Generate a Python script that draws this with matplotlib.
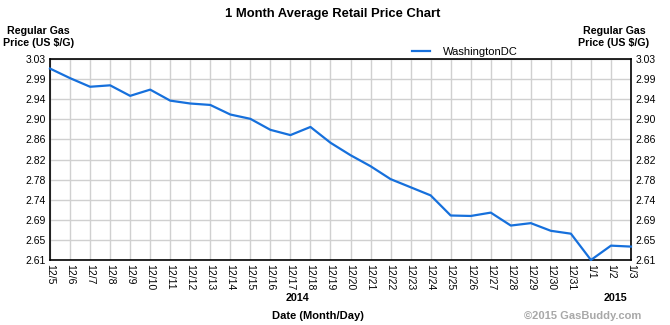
import numpy as np
import matplotlib.pyplot as plt

plt.rcParams['font.family'] = ['Liberation Sans', 'DejaVu Sans']

# ----------------------------
# Data: daily average regular gas price, Washington DC
# ----------------------------

dates = ['12/5', '12/6', '12/7', '12/8', '12/9', '12/10', '12/11', '12/12',
         '12/13', '12/14', '12/15', '12/16', '12/17', '12/18', '12/19',
         '12/20', '12/21', '12/22', '12/23', '12/24', '12/25', '12/26',
         '12/27', '12/28', '12/29', '12/30', '12/31', '1/1', '1/2', '1/3']

prices = [3.010, 2.990, 2.972, 2.975, 2.953, 2.966, 2.943, 2.937,
          2.934, 2.914, 2.905, 2.882, 2.871, 2.888, 2.855,
          2.829, 2.806, 2.779, 2.762, 2.745, 2.703, 2.702,
          2.709, 2.682, 2.687, 2.671, 2.665, 2.610, 2.640, 2.638]

y_min, y_max = 2.61, 3.03
y_labels = ['2.61', '2.65', '2.69', '2.74', '2.78', '2.82',
            '2.86', '2.90', '2.94', '2.99', '3.03']

line_color = '#1670dc'

# ----------------------------
# Plot
# ----------------------------

fig = plt.figure(figsize=(6.7, 3.25), dpi=100)
ax = fig.add_axes([50 / 670, 65 / 325, 581 / 670, 201 / 325])

x = np.arange(len(dates))
ax.plot(x, prices, color=line_color, lw=1.6, label='WashingtonDC',
        solid_joinstyle='round', clip_on=False, zorder=3)

ax.set_xlim(0, len(dates) - 1)
ax.set_ylim(y_min, y_max)

ax.set_xticks(x)
ax.set_xticklabels(dates, rotation=-90, fontsize=7.5, va='top', ha='center')
yt = np.linspace(y_min, y_max, len(y_labels))
ax.set_yticks(yt)
ax.set_yticklabels(y_labels, fontsize=7.5)
ax.tick_params(axis='both', length=0, pad=3)
ax.tick_params(axis='y', labelright=True, right=False)

ax.grid(True, color='#d0d0d0', lw=1.0)
ax.set_axisbelow(True)
for s in ax.spines.values():
    s.set_color('black')
    s.set_linewidth(1.2)

# Titles and labels
fig.text(333 / 670, 1 - 14 / 325, '1 Month Average Retail Price Chart',
         ha='center', va='center', fontsize=9.4, fontweight='bold')
fig.text(3 / 670, 1 - 37 / 325, 'Regular Gas\nPrice (US $/G)',
         ha='left', va='center', fontsize=7.7, fontweight='bold',
         linespacing=1.35, multialignment='center')
fig.text(614 / 670, 1 - 37 / 325, 'Regular Gas\nPrice (US $/G)',
         ha='center', va='center', fontsize=7.7, fontweight='bold',
         linespacing=1.35, multialignment='center')
fig.text(298 / 670, 1 - 298 / 325, '2014', ha='center', va='center',
         fontsize=7.7, fontweight='bold')
fig.text(615 / 670, 1 - 298 / 325, '2015', ha='center', va='center',
         fontsize=7.7, fontweight='bold')
fig.text(318 / 670, 1 - 316 / 325, 'Date (Month/Day)', ha='center',
         va='center', fontsize=8, fontweight='bold')
fig.text(641 / 670, 1 - 316 / 325, '\u00a92015 GasBuddy.com', ha='right',
         va='center', fontsize=8, fontweight='bold', color='#a8a8a8')

ax.legend(loc='center', bbox_to_anchor=(465 / 670, 1 - 52 / 325),
          bbox_transform=fig.transFigure, frameon=False, fontsize=8,
          handlelength=1.6, handletextpad=1.2)

fig.savefig('out.png', dpi=100)
